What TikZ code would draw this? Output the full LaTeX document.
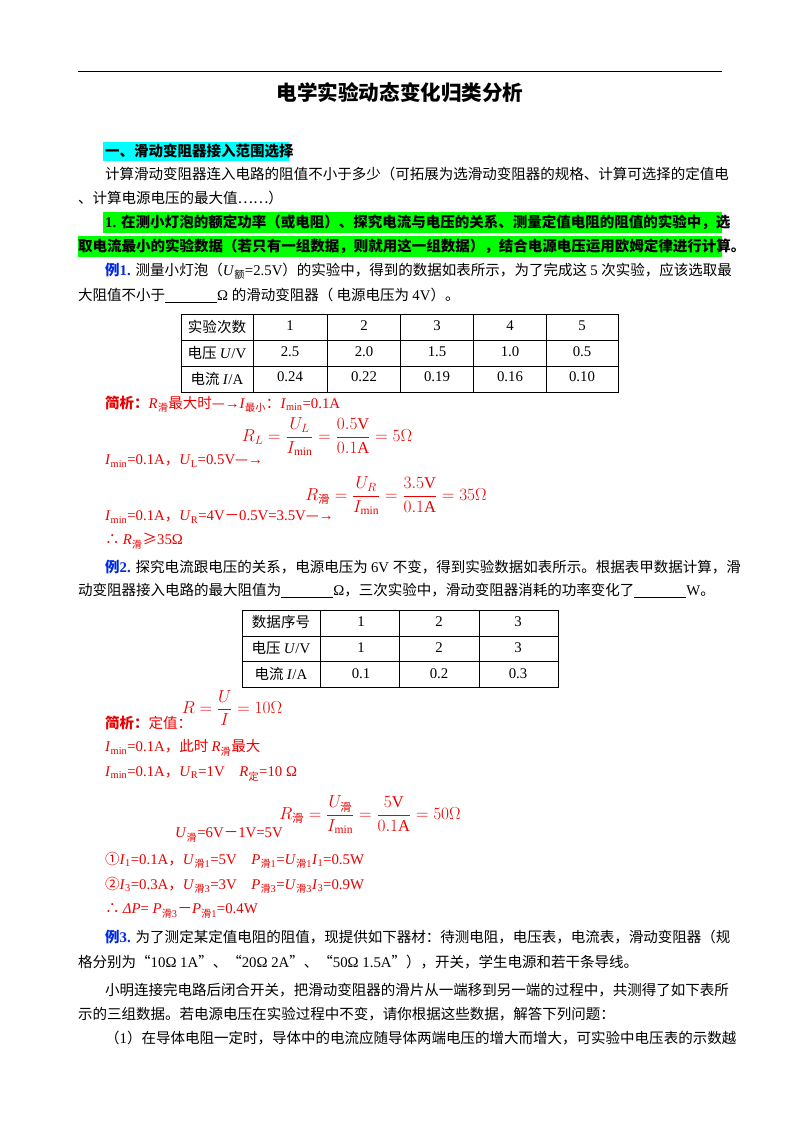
\documentclass[tikz,border=0pt]{standalone}
\usepackage{amsmath}
\usepackage{fontspec}
\setmainfont{Liberation Serif}
\newfontfamily\cjk[Scale=0.98]{Noto Sans CJK SC}
\makeatletter
\newXeTeXintercharclass\cjkclass
\def\setcls#1#2{\count@=#1\relax\loop\XeTeXcharclass\count@=\cjkclass\ifnum\count@<#2\advance\count@ 1\repeat}
\setcls{"4E00}{"9FFF}\setcls{"3000}{"303F}\setcls{"FF00}{"FFEF}\setcls{"2460}{"2473}
\XeTeXcharclass"2026=\cjkclass \XeTeXcharclass"201C=\cjkclass \XeTeXcharclass"201D=\cjkclass
\XeTeXcharclass"2234=\cjkclass \XeTeXcharclass"2265=\cjkclass \XeTeXcharclass"2014=\cjkclass
\makeatother
\XeTeXinterchartoks 0 \cjkclass = {\cjk}
\XeTeXinterchartoks 4095 \cjkclass = {\cjk}
\XeTeXinterchartoks \cjkclass 0 = {\rmfamily}
\XeTeXinterchartoks 4095 0 = {\rmfamily}
\XeTeXinterchartokenstate=1
\definecolor{rd}{RGB}{235,0,0}
\definecolor{bl}{RGB}{0,40,230}
\definecolor{gr}{RGB}{0,255,0}
\definecolor{cy}{RGB}{0,255,255}
\newcommand\body{\fontsize{14.8}{16}\selectfont}
\newcommand\ti[1]{\textit{#1}}
\newcommand\sbs[1]{\textsubscript{#1}}
\newcommand\blnk{\underline{\hspace{52pt}}}
\tikzset{ln/.style={anchor=west,inner sep=0pt,font=\body},
 rl/.style={ln,text=rd},
 fm/.style={inner sep=0pt,font=\fontsize{16.5}{18}\selectfont,text=rd},
 cell/.style={inner sep=0pt,font=\body}}
\begin{document}
\begin{tikzpicture}[x=1pt,y=-1pt]
\useasboundingbox (0,0) rectangle (800,1132);
\fill[white] (0,0) rectangle (800,1132);
\draw[line width=1pt] (78,72) -- (722,72);
\node[inner sep=0pt,font=\fontsize{21}{24}\selectfont\bfseries] (title) at (400,93) {电学实验动态变化归类分析};
\fill[cy] (103,142) rectangle (289,161);
\node[ln,font=\body\bfseries] (h1) at (105,151) {一、滑动变阻器接入范围选择};
\node[ln] (l1) at (105,174) {计算滑动变阻器连入电路的阻值不小于多少（可拓展为选滑动变阻器的规格、计算可选择的定值电};
\node[ln] (l2) at (78,198) {、计算电源电压的最大值……）};
\fill[gr] (103,212) rectangle (722,233);
\fill[gr] (78,236) rectangle (722,257);
\node[ln,font=\body\bfseries] (g1) at (105,222) {1. 在测小灯泡的额定功率（或电阻）、探究电流与电压的关系、测量定值电阻的阻值的实验中，选};
\node[ln,font=\body\bfseries] (g2) at (78,246) {取电流最小的实验数据（若只有一组数据，则就用这一组数据），结合电源电压运用欧姆定律进行计算。};
\node[ln] (e1) at (105,271) {\textcolor{bl}{\bfseries 例1.} 测量小灯泡（\ti{U}\sbs{额}=2.5V）的实验中，得到的数据如表所示，为了完成这 5 次实验，应该选取最};
\node[ln] (e1b) at (78,296) {大阻值不小于\blnk Ω 的滑动变阻器（ 电源电压为 4V）。};
% table 1
\draw[line width=0.8pt] (181,314) rectangle (618,392);
\foreach \y in {340,366} \draw[line width=0.8pt] (181,\y) -- (618,\y);
\foreach \x in {253,327,400,473,546} \draw[line width=0.8pt] (\x,314) -- (\x,392);
\node[cell] (t11) at (217,327) {实验次数};
\node[cell] (t21) at (217,353) {电压 \ti{U}/V};
\node[cell] (t31) at (217,379) {电流 \ti{I}/A};
\foreach \v/\x in {1/290,2/364,3/437,4/510,5/582} \node[cell] (ta\v) at (\x,326) {\v};
\foreach \v/\x [count=\i] in {2.5/290,2.0/364,1.5/437,1.0/510,0.5/582} \node[cell] (tb\i) at (\x,352) {\v};
\foreach \v/\x [count=\i] in {0.24/290,0.22/364,0.19/437,0.16/510,0.10/582} \node[cell] (tc\i) at (\x,377) {\v};
% analysis 1
\node[rl] (a1) at (105,404) {\textbf{简析：}\ti{R}\sbs{滑}最大时—→\ti{I}\sbs{最小}：\ti{I}\sbs{min}=0.1A};
\node[fm] (f1) at (327,437) {$R_{L}=\dfrac{U_{L}}{I_{\min}}=\dfrac{0.5\mathrm{V}}{0.1\mathrm{A}}=5\Omega$};
\node[rl] (a2) at (105,461) {\ti{I}\sbs{min}=0.1A，\ti{U}\sbs{L}=0.5V—→};
\node[fm] (f2) at (396,496) {$R_{\text{滑}}=\dfrac{U_{R}}{I_{\min}}=\dfrac{3.5\mathrm{V}}{0.1\mathrm{A}}=35\Omega$};
\node[rl] (a3) at (105,517) {\ti{I}\sbs{min}=0.1A，\ti{U}\sbs{R}=4V－0.5V=3.5V—→};
\node[rl] (a4) at (105,541) {∴ \ti{R}\sbs{滑}≥35Ω};
% example 2
\node[ln] (e2) at (105,567) {\textcolor{bl}{\bfseries 例2.} 探究电流跟电压的关系，电源电压为 6V 不变，得到实验数据如表所示。根据表甲数据计算，滑};
\node[ln] (e2b) at (78,591) {动变阻器接入电路的最大阻值为\blnk Ω，三次实验中，滑动变阻器消耗的功率变化了\blnk W。};
\draw[line width=0.8pt] (242,610) rectangle (558,687);
\foreach \y in {636,661} \draw[line width=0.8pt] (242,\y) -- (558,\y);
\foreach \x in {320,399,479} \draw[line width=0.8pt] (\x,610) -- (\x,687);
\node[cell] (s11) at (281,622) {数据序号};
\node[cell] (s21) at (281,648) {电压 \ti{U}/V};
\node[cell] (s31) at (281,674) {电流 \ti{I}/A};
\foreach \v/\x in {1/361,2/439,3/518} {\node[cell] (sa\v) at (\x,622) {\v}; \node[cell] (sb\v) at (\x,648) {\v};}
\foreach \v/\x [count=\i] in {0.1/361,0.2/439,0.3/518} \node[cell] (sc\i) at (\x,674) {\v};
% analysis 2
\node[fm] (f3) at (232,708) {$R=\dfrac{U}{I}=10\Omega$};
\node[rl] (b1) at (105,723) {\textbf{简析：}定值：};
\node[rl] (b2) at (105,748) {\ti{I}\sbs{min}=0.1A，此时 \ti{R}\sbs{滑}最大};
\node[rl] (b3) at (105,774) {\ti{I}\sbs{min}=0.1A，\ti{U}\sbs{R}=1V\quad \ti{R}\sbs{定}=10 Ω};
\node[fm] (f4) at (370,815) {$R_{\text{滑}}=\dfrac{U_{\text{滑}}}{I_{\min}}=\dfrac{5\mathrm{V}}{0.1\mathrm{A}}=50\Omega$};
\node[rl] (b4) at (175,835) {\ti{U}\sbs{滑}=6V－1V=5V};
\node[rl] (b5) at (105,860) {①\ti{I}\sbs{1}=0.1A，\ti{U}\sbs{滑1}=5V\quad \ti{P}\sbs{滑1}=\ti{U}\sbs{滑1}\ti{I}\sbs{1}=0.5W};
\node[rl] (b6) at (105,885) {②\ti{I}\sbs{3}=0.3A，\ti{U}\sbs{滑3}=3V\quad \ti{P}\sbs{滑3}=\ti{U}\sbs{滑3}\ti{I}\sbs{3}=0.9W};
\node[rl] (b7) at (105,911) {∴ \ti{ΔP}= \ti{P}\sbs{滑3}－\ti{P}\sbs{滑1}=0.4W};
% example 3
\node[ln] (e3) at (105,937) {\textcolor{bl}{\bfseries 例3.} 为了测定某定值电阻的阻值，现提供如下器材：待测电阻，电压表，电流表，滑动变阻器（规};
\node[ln] (e3b) at (78,962) {格分别为“10Ω 1A”、“20Ω 2A”、“50Ω 1.5A”），开关，学生电源和若干条导线。};
\node[ln] (e3c) at (105,990) {小明连接完电路后闭合开关，把滑动变阻器的滑片从一端移到另一端的过程中，共测得了如下表所};
\node[ln] (e3d) at (78,1014) {示的三组数据。若电源电压在实验过程中不变，请你根据这些数据，解答下列问题：};
\node[ln] (e3e) at (105,1038) {（1）在导体电阻一定时，导体中的电流应随导体两端电压的增大而增大，可实验中电压表的示数越};
\end{tikzpicture}
\end{document}
